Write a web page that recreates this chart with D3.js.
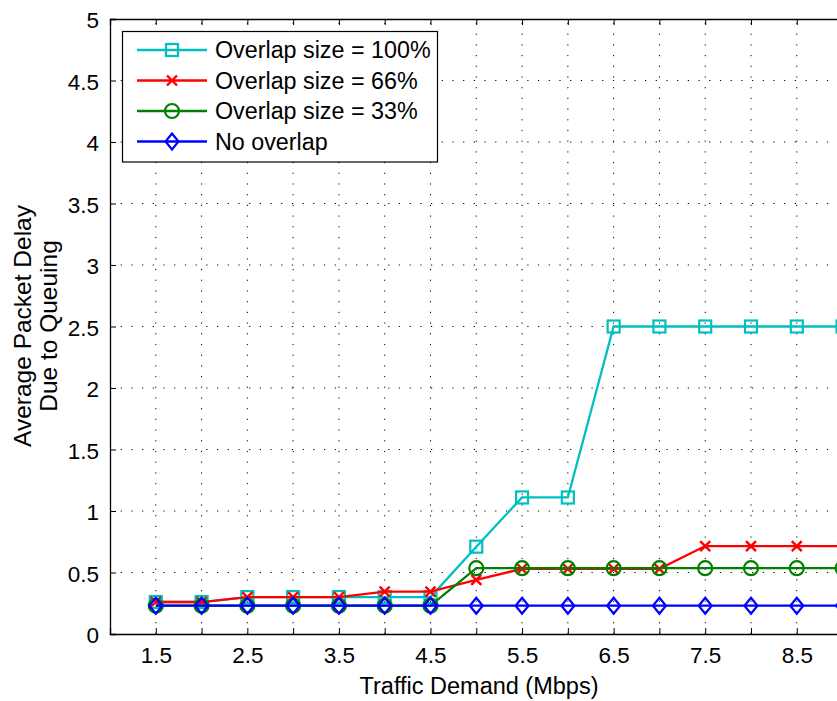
<!DOCTYPE html>
<html>
<head>
<meta charset="utf-8">
<script src="https://cdn.jsdelivr.net/npm/d3@7"></script>
<style>
  html, body { margin: 0; padding: 0; background: #fff; }
  svg { display: block; font-family: "Liberation Sans", Arial, Helvetica, sans-serif; }
</style>
</head>
<body>
<svg id="chart" width="837" height="701"></svg>
<script>
// Traffic demand (Mbps) sampled every 0.5
const demand = [1.5, 2, 2.5, 3, 3.5, 4, 4.5, 5, 5.5, 6, 6.5, 7, 7.5, 8, 8.5, 9];

// Average packet delay due to queuing for each overlap setting
const overlap100 = [0.26, 0.26, 0.30, 0.30, 0.30, 0.30, 0.30, 0.71, 1.11, 1.11, 2.50, 2.50, 2.50, 2.50, 2.50, 2.50];
const overlap66  = [0.26, 0.26, 0.30, 0.30, 0.30, 0.345, 0.345, 0.44, 0.53, 0.53, 0.53, 0.53, 0.715, 0.715, 0.715, 0.715];
const overlap33  = [0.23, 0.23, 0.23, 0.23, 0.23, 0.23, 0.23, 0.535, 0.535, 0.535, 0.535, 0.535, 0.535, 0.535, 0.535, 0.535];
const noOverlap  = [0.23, 0.23, 0.23, 0.23, 0.23, 0.23, 0.23, 0.23, 0.23, 0.23, 0.23, 0.23, 0.23, 0.23, 0.23, 0.23];

const seriesNames  = ["Overlap size = 100%", "Overlap size = 66%", "Overlap size = 33%", "No overlap"];
const seriesColors = ["#00BFBF", "#FF0000", "#008000", "#0000FF"];
const seriesMarkers = ["square", "cross", "circle", "diamond"];
const seriesValues = [overlap100, overlap66, overlap33, noOverlap];

const xGridTicks  = d3.range(1.5, 9.01, 0.5);
const xLabelTicks = [1.5, 2.5, 3.5, 4.5, 5.5, 6.5, 7.5, 8.5];
const yTicks      = [0, 0.5, 1, 1.5, 2, 2.5, 3, 3.5, 4, 4.5, 5];

const xLabel = "Traffic Demand (Mbps)";
const yLabelLines = ["Average Packet Delay", "Due to Queuing"];

const svg = d3.select("#chart");
const plotLeft = 110, plotTop = 19, plotBottom = 634;

const x = d3.scaleLinear().domain([1, 9.1]).range([plotLeft, plotLeft + 8.1 * 91.57]);
const y = d3.scaleLinear().domain([0, 5]).range([plotBottom, plotTop]);
const plotRight = x.range()[1];

// dotted grid
const grid = svg.append("g").attr("stroke", "#000").attr("stroke-width", 1)
  .attr("stroke-dasharray", "1.2,9.5").attr("fill", "none");
grid.selectAll("line.v").data(xGridTicks).join("line").attr("class", "v")
  .attr("x1", d => x(d)).attr("x2", d => x(d))
  .attr("y1", plotBottom).attr("y2", plotTop);
grid.selectAll("line.h").data(yTicks.filter(d => d > 0 && d < 5)).join("line").attr("class", "h")
  .attr("x1", plotLeft).attr("x2", plotRight)
  .attr("y1", d => y(d)).attr("y2", d => y(d));

// axes with inward ticks
const xAxisBottom = d3.axisBottom(x).tickValues(xGridTicks).tickSize(-6)
  .tickFormat(d => xLabelTicks.includes(d) ? d3.format("")(d) : "").tickPadding(13);
const gx = svg.append("g").attr("transform", `translate(0,${plotBottom})`).call(xAxisBottom);
const xAxisTop = d3.axisTop(x).tickValues(xGridTicks).tickSize(-6).tickFormat("");
const gxt = svg.append("g").attr("transform", `translate(0,${plotTop})`).call(xAxisTop);
const yAxis = d3.axisLeft(y).tickValues(yTicks).tickSize(-6).tickFormat(d3.format("")).tickPadding(11);
const gy = svg.append("g").attr("transform", `translate(${plotLeft},0)`).call(yAxis);

[gx, gxt, gy].forEach(g => {
  g.select(".domain").attr("stroke", "#000").attr("stroke-width", 1.3);
  g.selectAll(".tick line").attr("stroke", "#000").attr("stroke-width", 1);
  g.selectAll(".tick text").attr("fill", "#000").attr("font-size", 22.5)
    .attr("font-family", "Liberation Sans, Arial, sans-serif");
});
gx.selectAll(".tick text").attr("dy", "0.71em");
gy.selectAll(".tick text").attr("dy", "0.38em");

// series lines and markers
const line = d3.line().x((d, i) => x(demand[i])).y(d => y(d));

function drawMarker(g, type, color) {
  if (type === "square") {
    g.append("rect").attr("x", -6).attr("y", -6).attr("width", 12).attr("height", 12)
      .attr("fill", "none").attr("stroke", color).attr("stroke-width", 2.2);
  } else if (type === "cross") {
    g.append("path").attr("d", "M-5,-5L5,5M-5,5L5,-5")
      .attr("fill", "none").attr("stroke", color).attr("stroke-width", 2.4);
  } else if (type === "circle") {
    g.append("circle").attr("r", 7)
      .attr("fill", "none").attr("stroke", color).attr("stroke-width", 2.2);
  } else if (type === "diamond") {
    g.append("path").attr("d", "M0,-8L6.5,0L0,8L-6.5,0Z")
      .attr("fill", "none").attr("stroke", color).attr("stroke-width", 2.2);
  }
}

seriesValues.forEach((vals, s) => {
  const g = svg.append("g");
  g.append("path").datum(vals).attr("d", line)
    .attr("fill", "none").attr("stroke", seriesColors[s]).attr("stroke-width", 2.3);
  vals.forEach((v, i) => {
    const m = g.append("g").attr("transform", `translate(${x(demand[i])},${y(v)})`);
    drawMarker(m, seriesMarkers[s], seriesColors[s]);
  });
});

// axis labels
svg.append("text").attr("x", 479).attr("y", 694)
  .attr("text-anchor", "middle").attr("font-size", 23.5).attr("fill", "#000")
  .text(xLabel);

const yl = svg.append("text").attr("transform", "translate(0,326) rotate(-90)")
  .attr("text-anchor", "middle").attr("font-size", 24.5).attr("fill", "#000");
yl.append("tspan").attr("x", 0).attr("y", 31).text(yLabelLines[0]);
yl.append("tspan").attr("x", 0).attr("y", 57).text(yLabelLines[1]);

// legend
const lg = svg.append("g");
lg.append("rect").attr("x", 122.5).attr("y", 31.5).attr("width", 315).attr("height", 130.5)
  .attr("fill", "#fff").attr("stroke", "#000").attr("stroke-width", 1.2);
const legendRowY = d3.scalePoint().domain(d3.range(seriesNames.length)).range([50, 141.5]);
seriesNames.forEach((name, s) => {
  const ry = legendRowY(s);
  lg.append("line").attr("x1", 137).attr("x2", 207).attr("y1", ry).attr("y2", ry)
    .attr("stroke", seriesColors[s]).attr("stroke-width", 2.3);
  const m = lg.append("g").attr("transform", `translate(172,${ry})`);
  drawMarker(m, seriesMarkers[s], seriesColors[s]);
  lg.append("text").attr("x", 215).attr("y", ry).attr("dy", "0.36em")
    .attr("font-size", 23.3).attr("fill", "#000").text(name);
});
</script>
</body>
</html>
